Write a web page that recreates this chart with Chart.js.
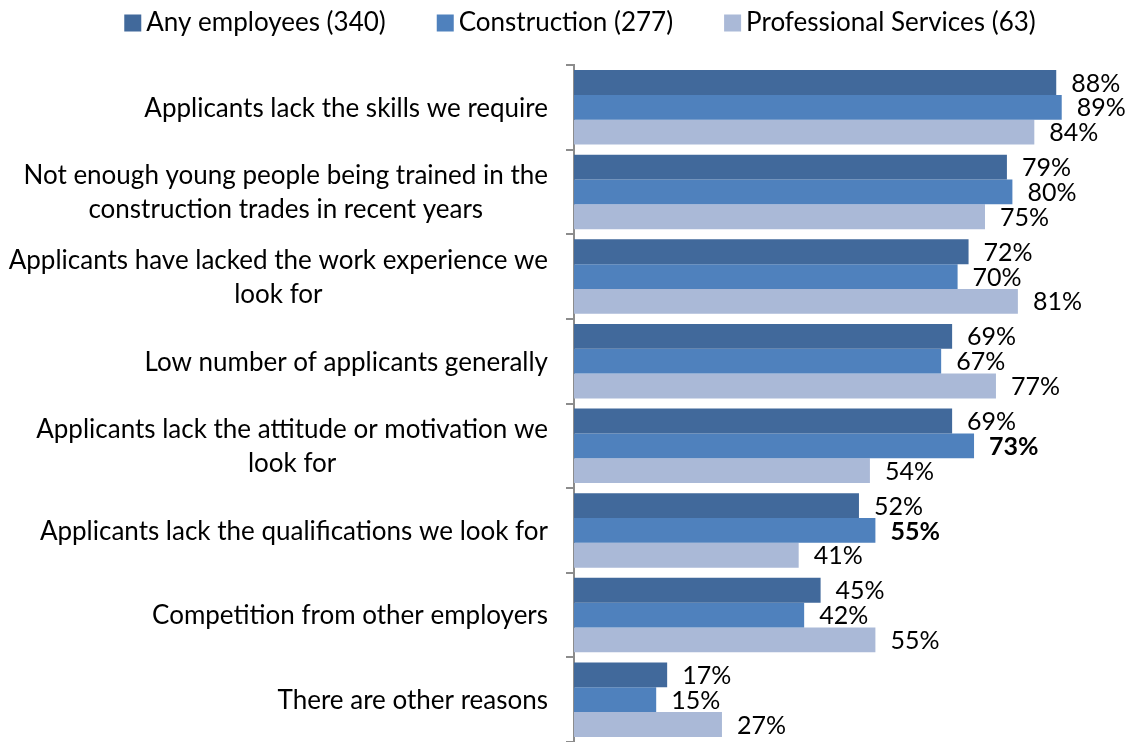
<!DOCTYPE html>
<html>
<head>
<meta charset="utf-8">
<script src="https://cdn.jsdelivr.net/npm/chart.js@4.4.0/dist/chart.umd.min.js"></script>
<style>
    html, body { margin: 0; padding: 0; background: #fff; }
    #wrap { width: 1129px; height: 742px; }
</style>
</head>
<body>
<div id="wrap"><canvas id="chart"></canvas></div>
<script>
const categories = [
    ['Applicants lack the skills we require'],
    ['Not enough young people being trained in the', 'construction trades in recent years'],
    ['Applicants have lacked the work experience we', 'look for'],
    ['Low number of applicants generally'],
    ['Applicants lack the attitude or motivation we', 'look for'],
    ['Applicants lack the qualifications we look for'],
    ['Competition from other employers'],
    ['There are other reasons']
];
const seriesNames = ['Any employees (340)', 'Construction (277)', 'Professional Services (63)'];
const anyEmployees = [88, 79, 72, 69, 69, 52, 45, 17];
const construction = [89, 80, 70, 67, 73, 55, 42, 15];
const professional = [84, 75, 81, 77, 54, 41, 55, 27];
const constructionBold = [false, false, false, false, true, true, false, false];
const colors = ['#41699B', '#4F81BD', '#AAB9D7'];

const FONT = 'Lato, "Open Sans", sans-serif';
const AXIS_X = 574;
const LABEL_RIGHT = 548;

// eigene Legende oben
const legendPlugin = {
    id: 'topLegend',
    afterDraw(chart) {
        const ctx = chart.ctx;
        ctx.save();
        ctx.font = `26px ${FONT}`;
        ctx.textBaseline = 'middle';
        ctx.textAlign = 'left';
        const box = 17, gapText = 5, gapItem = 51;
        const widths = chart.data.datasets.map(d => box + gapText + ctx.measureText(d.label).width);
        const total = widths.reduce((s, w) => s + w, 0) + gapItem * (widths.length - 1);
        let x = 580 - total / 2;
        const y = 23;
        chart.data.datasets.forEach((d, i) => {
            ctx.fillStyle = d.backgroundColor;
            ctx.fillRect(x, y - box / 2, box, box);
            ctx.fillStyle = '#000';
            ctx.fillText(d.label, x + box + gapText, y);
            x += widths[i] + gapItem;
        });
        ctx.restore();
    }
};

// Kategorienbeschriftung: rechtsbündig als Block, Zeilen zentriert
const categoryLabels = {
    id: 'categoryLabels',
    afterDraw(chart) {
        const ctx = chart.ctx;
        const yScale = chart.scales.y;
        ctx.save();
        ctx.font = `26px ${FONT}`;
        ctx.fillStyle = '#000';
        ctx.textAlign = 'center';
        ctx.textBaseline = 'middle';
        const lineH = 34;
        categories.forEach((lines, i) => {
            const yc = yScale.getPixelForValue(i);
            const w = Math.max(...lines.map(l => ctx.measureText(l).width));
            const xc = LABEL_RIGHT - w / 2;
            lines.forEach((l, j) => {
                ctx.fillText(l, xc, yc + (j - (lines.length - 1) / 2) * lineH + 1);
            });
        });
        ctx.restore();
    }
};

// Prozentwerte rechts neben den Balken
const valueLabels = {
    id: 'valueLabels',
    afterDatasetsDraw(chart) {
        const ctx = chart.ctx;
        ctx.save();
        ctx.fillStyle = '#000';
        ctx.textAlign = 'left';
        ctx.textBaseline = 'middle';
        chart.data.datasets.forEach((d, di) => {
            chart.getDatasetMeta(di).data.forEach((bar, i) => {
                const bold = di === 1 && constructionBold[i];
                ctx.font = `${bold ? 'bold ' : ''}25px ${FONT}`;
                ctx.fillText(d.data[i] + '%', bar.x + 15, bar.y + 1);
            });
        });
        ctx.restore();
    }
};

const chart = new Chart(document.getElementById('chart'), {
    type: 'bar',
    data: {
        labels: categories.map(c => c.join(' ')),
        datasets: [
            { label: seriesNames[0], data: anyEmployees, backgroundColor: colors[0] },
            { label: seriesNames[1], data: construction, backgroundColor: colors[1] },
            { label: seriesNames[2], data: professional, backgroundColor: colors[2] }
        ]
    },
    options: {
        indexAxis: 'y',
        responsive: true,
        maintainAspectRatio: false,
        animation: false,
        categoryPercentage: 0.88,
        barPercentage: 1,
        layout: { padding: { top: 65, right: 7, left: 0, bottom: 0 } },
        plugins: { legend: { display: false }, tooltip: { enabled: false } },
        scales: {
            x: { display: false, min: 0, max: 100 },
            y: {
                ticks: { display: false },
                grid: { display: true, drawOnChartArea: false, drawTicks: true, tickLength: 8, color: '#8C8C8C', lineWidth: 2, offset: true },
                border: { display: true, color: '#8C8C8C', width: 2 },
                afterFit(scale) { scale.width = AXIS_X; }
            }
        }
    },
    plugins: [legendPlugin, categoryLabels, valueLabels]
});
</script>
</body>
</html>
